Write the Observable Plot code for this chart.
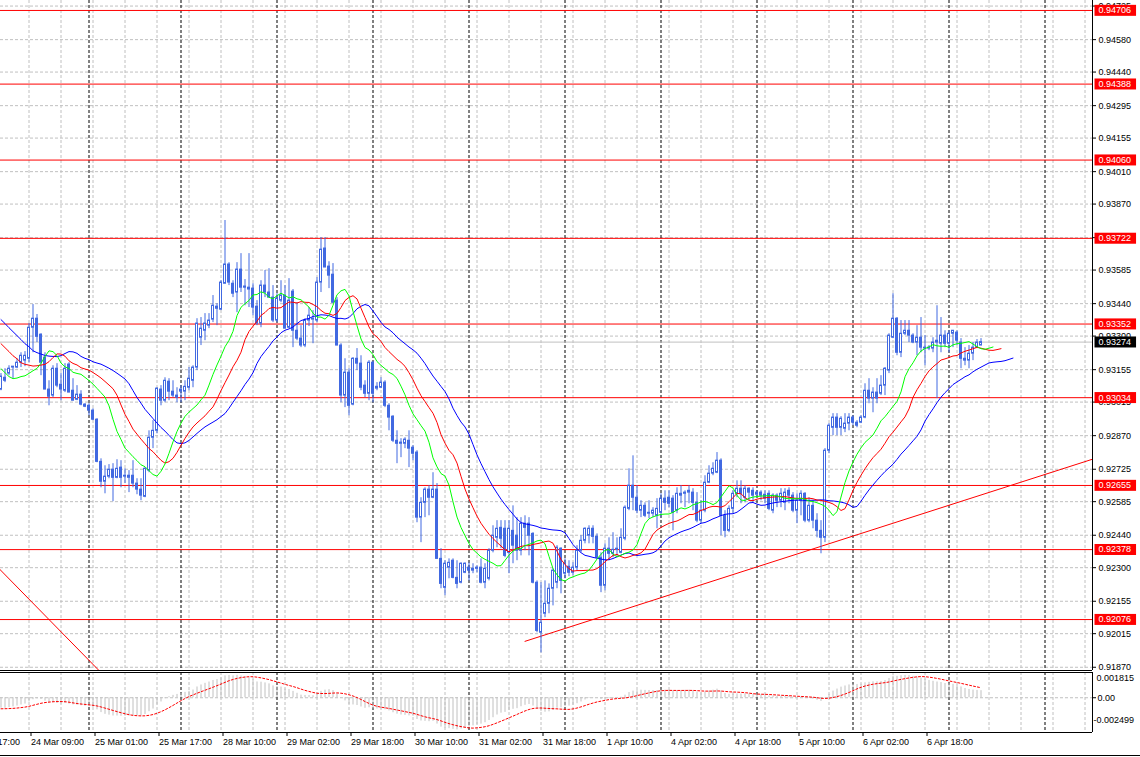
<!DOCTYPE html>
<html><head><meta charset="utf-8">
<script src="https://cdn.jsdelivr.net/npm/d3@7"></script>
<script src="https://cdn.jsdelivr.net/npm/@observablehq/plot@0.6"></script>
<style>
html,body{margin:0;padding:0;background:#fff;overflow:hidden;}
#chart{width:1140px;height:757px;position:relative;overflow:hidden;background:#fff;}
#chart svg{display:block;}
#chart .window-edge{position:absolute;left:0;top:755px;width:1140px;height:1px;background:#000;}
</style></head>
<body><div id="chart"></div>
<script>
// ---- H1 candles (bar index 0 = left edge of the chart) ----
const open = [
0.93069,0.93120,0.93138,0.93164,0.93164,0.93185,0.93194,0.93202,0.93336,0.93375,
0.93306,0.93207,0.93069,0.93043,0.93159,0.93090,0.93064,0.93177,0.93064,0.93025,
0.93047,0.93004,0.92999,0.92978,0.92939,0.92757,0.92671,0.92693,0.92723,0.92688,
0.92732,0.92693,0.92688,0.92697,0.92663,0.92637,0.92606,0.92719,0.92861,0.92891,
0.93069,0.93021,0.93103,0.93060,0.93043,0.93060,0.93060,0.93077,0.93107,0.93164,
0.93293,0.93323,0.93345,0.93371,0.93427,0.93414,0.93526,0.93609,0.93526,0.93488,
0.93587,0.93514,0.93509,0.93505,0.93427,0.93354,0.93518,0.93488,0.93466,0.93367,
0.93453,0.93475,0.93336,0.93492,0.93323,0.93289,0.93259,0.93367,0.93371,0.93367,
0.93531,0.93678,0.93600,0.93565,0.93453,0.93259,0.93043,0.93142,0.93004,0.93202,
0.93181,0.93086,0.93051,0.93185,0.93073,0.93077,0.93099,0.92999,0.92952,0.92848,
0.92835,0.92835,0.92848,0.92818,0.92797,0.92516,0.92580,0.92637,0.92602,0.92637,
0.92338,0.92213,0.92300,0.92330,0.92256,0.92235,0.92278,0.92300,0.92287,0.92295,
0.92300,0.92235,0.92252,0.92373,0.92429,0.92472,0.92468,0.92364,0.92459,0.92438,
0.92373,0.92490,0.92490,0.92446,0.92235,0.92019,0.92101,0.92144,0.92209,0.92235,
0.92382,0.92274,0.92304,0.92278,0.92300,0.92373,0.92416,0.92438,0.92468,0.92433,
0.92343,0.92222,0.92382,0.92360,0.92377,0.92364,0.92425,0.92554,0.92654,0.92602,
0.92546,0.92567,0.92533,0.92533,0.92524,0.92537,0.92598,0.92602,0.92598,0.92546,
0.92619,0.92619,0.92624,0.92624,0.92580,0.92503,0.92546,0.92667,0.92706,0.92710,
0.92762,0.92524,0.92459,0.92554,0.92619,0.92641,0.92602,0.92641,0.92632,0.92615,
0.92624,0.92615,0.92619,0.92546,0.92611,0.92589,0.92580,0.92632,0.92611,0.92546,
0.92589,0.92619,0.92503,0.92567,0.92503,0.92459,0.92429,0.92805,0.92904,0.92948,
0.92904,0.92900,0.92922,0.92948,0.92926,0.92926,0.92948,0.93064,0.93030,0.93056,
0.93051,0.93086,0.93151,0.93293,0.93375,0.93228,0.93310,0.93323,0.93302,0.93272,
0.93293,0.93250,0.93246,0.93246,0.93272,0.93267,0.93302,0.93267,0.93310,0.93315,
0.93272,0.93202,0.93194,0.93224,0.93250,0.93259];
const high = [
0.93138,0.93159,0.93172,0.93168,0.93202,0.93228,0.93233,0.93354,0.93436,0.93393,
0.93310,0.93228,0.93107,0.93172,0.93181,0.93138,0.93181,0.93185,0.93116,0.93086,
0.93064,0.93008,0.93008,0.92986,0.92943,0.92770,0.92740,0.92745,0.92749,0.92766,
0.92762,0.92727,0.92719,0.92762,0.92684,0.92684,0.92732,0.92891,0.92935,0.93077,
0.93086,0.93120,0.93116,0.93107,0.93077,0.93086,0.93107,0.93164,0.93172,0.93375,
0.93380,0.93397,0.93397,0.93475,0.93440,0.93539,0.93799,0.93617,0.93539,0.93617,
0.93656,0.93544,0.93656,0.93526,0.93453,0.93539,0.93583,0.93591,0.93518,0.93483,
0.93539,0.93518,0.93548,0.93501,0.93444,0.93345,0.93375,0.93423,0.93410,0.93552,
0.93725,0.93725,0.93621,0.93613,0.93466,0.93267,0.93202,0.93159,0.93207,0.93246,
0.93215,0.93107,0.93194,0.93190,0.93099,0.93120,0.93107,0.93008,0.92956,0.92891,
0.92857,0.92861,0.92891,0.92827,0.92805,0.92602,0.92645,0.92654,0.92710,0.92663,
0.92382,0.92330,0.92338,0.92338,0.92330,0.92321,0.92321,0.92321,0.92317,0.92308,
0.92338,0.92317,0.92382,0.92481,0.92503,0.92503,0.92503,0.92503,0.92567,0.92516,
0.92516,0.92524,0.92516,0.92451,0.92243,0.92235,0.92243,0.92230,0.92295,0.92395,
0.92386,0.92338,0.92330,0.92321,0.92395,0.92438,0.92472,0.92481,0.92481,0.92446,
0.92364,0.92403,0.92429,0.92451,0.92429,0.92468,0.92567,0.92727,0.92783,0.92654,
0.92589,0.92580,0.92589,0.92559,0.92598,0.92619,0.92632,0.92632,0.92611,0.92645,
0.92654,0.92632,0.92654,0.92641,0.92624,0.92589,0.92697,0.92740,0.92753,0.92797,
0.92770,0.92546,0.92567,0.92632,0.92675,0.92675,0.92654,0.92645,0.92645,0.92632,
0.92632,0.92632,0.92632,0.92619,0.92619,0.92641,0.92641,0.92645,0.92624,0.92619,
0.92632,0.92624,0.92602,0.92589,0.92533,0.92503,0.92814,0.92922,0.92965,0.92965,
0.92952,0.92965,0.92965,0.92956,0.92935,0.92956,0.93094,0.93116,0.93077,0.93116,
0.93129,0.93164,0.93310,0.93483,0.93380,0.93367,0.93367,0.93367,0.93310,0.93345,
0.93380,0.93302,0.93259,0.93293,0.93431,0.93380,0.93323,0.93323,0.93323,0.93323,
0.93289,0.93250,0.93259,0.93272,0.93285,0.93289];
const low = [
0.93064,0.93099,0.93129,0.93116,0.93159,0.93164,0.93168,0.93185,0.93228,0.93272,
0.93129,0.93069,0.92999,0.93034,0.93077,0.93021,0.93056,0.93056,0.93021,0.93021,
0.92999,0.92991,0.92956,0.92935,0.92753,0.92645,0.92619,0.92684,0.92585,0.92684,
0.92645,0.92663,0.92624,0.92645,0.92615,0.92589,0.92602,0.92710,0.92814,0.92878,
0.92999,0.93012,0.93021,0.93034,0.93012,0.93012,0.93021,0.93064,0.93077,0.93151,
0.93259,0.93280,0.93332,0.93358,0.93345,0.93410,0.93526,0.93518,0.93466,0.93401,
0.93488,0.93431,0.93423,0.93388,0.93345,0.93336,0.93466,0.93466,0.93358,0.93358,
0.93444,0.93332,0.93332,0.93250,0.93280,0.93250,0.93250,0.93341,0.93267,0.93358,
0.93488,0.93596,0.93505,0.93440,0.93259,0.93012,0.92991,0.92956,0.92999,0.93151,
0.93064,0.93034,0.93021,0.93012,0.93064,0.93073,0.92991,0.92891,0.92840,0.92749,
0.92775,0.92814,0.92732,0.92762,0.92494,0.92408,0.92516,0.92524,0.92598,0.92338,
0.92209,0.92179,0.92252,0.92252,0.92209,0.92230,0.92274,0.92243,0.92274,0.92278,
0.92230,0.92209,0.92243,0.92364,0.92386,0.92382,0.92343,0.92274,0.92317,0.92330,
0.92351,0.92373,0.92351,0.92230,0.92019,0.91932,0.92084,0.92101,0.92135,0.92209,
0.92187,0.92252,0.92261,0.92265,0.92287,0.92364,0.92403,0.92403,0.92403,0.92338,
0.92192,0.92200,0.92330,0.92343,0.92343,0.92360,0.92416,0.92546,0.92546,0.92533,
0.92516,0.92516,0.92511,0.92516,0.92468,0.92516,0.92546,0.92559,0.92459,0.92533,
0.92576,0.92559,0.92576,0.92546,0.92494,0.92490,0.92537,0.92663,0.92697,0.92706,
0.92438,0.92429,0.92451,0.92533,0.92602,0.92576,0.92580,0.92589,0.92580,0.92602,
0.92589,0.92576,0.92546,0.92533,0.92559,0.92559,0.92546,0.92576,0.92537,0.92490,
0.92524,0.92494,0.92494,0.92468,0.92429,0.92360,0.92408,0.92792,0.92870,0.92870,
0.92870,0.92883,0.92891,0.92913,0.92904,0.92922,0.92943,0.93008,0.92969,0.93008,
0.93043,0.93043,0.93138,0.93289,0.93215,0.93207,0.93302,0.93272,0.93267,0.93215,
0.93228,0.93172,0.93237,0.93228,0.93030,0.93228,0.93250,0.93228,0.93250,0.93259,
0.93159,0.93172,0.93159,0.93194,0.93246,0.93259];
const close = [
0.93125,0.93107,0.93159,0.93168,0.93185,0.93215,0.93215,0.93336,0.93375,0.93297,
0.93185,0.93069,0.93038,0.93159,0.93086,0.93069,0.93159,0.93056,0.93021,0.93047,
0.93004,0.92995,0.92978,0.92939,0.92757,0.92671,0.92693,0.92723,0.92688,0.92727,
0.92688,0.92697,0.92697,0.92663,0.92637,0.92611,0.92727,0.92861,0.92891,0.93073,
0.93021,0.93107,0.93060,0.93043,0.93034,0.93069,0.93081,0.93116,0.93164,0.93354,
0.93332,0.93354,0.93367,0.93431,0.93418,0.93531,0.93609,0.93531,0.93483,0.93587,
0.93509,0.93509,0.93501,0.93423,0.93354,0.93518,0.93488,0.93466,0.93367,0.93462,
0.93475,0.93332,0.93453,0.93323,0.93289,0.93259,0.93367,0.93388,0.93375,0.93531,
0.93673,0.93596,0.93561,0.93444,0.93259,0.93043,0.93142,0.92999,0.93202,0.93181,
0.93077,0.93051,0.93185,0.93051,0.93081,0.93099,0.92999,0.92948,0.92848,0.92835,
0.92840,0.92853,0.92814,0.92792,0.92516,0.92580,0.92637,0.92602,0.92637,0.92338,
0.92230,0.92317,0.92321,0.92256,0.92230,0.92317,0.92317,0.92287,0.92295,0.92300,
0.92235,0.92295,0.92373,0.92438,0.92468,0.92425,0.92351,0.92468,0.92395,0.92373,
0.92490,0.92472,0.92438,0.92235,0.92027,0.92062,0.92144,0.92209,0.92287,0.92386,
0.92243,0.92317,0.92278,0.92300,0.92373,0.92416,0.92468,0.92468,0.92433,0.92343,
0.92222,0.92382,0.92360,0.92377,0.92382,0.92429,0.92559,0.92654,0.92602,0.92546,
0.92567,0.92524,0.92537,0.92546,0.92554,0.92598,0.92580,0.92576,0.92537,0.92619,
0.92611,0.92624,0.92632,0.92580,0.92503,0.92546,0.92667,0.92706,0.92727,0.92762,
0.92524,0.92459,0.92554,0.92619,0.92641,0.92619,0.92641,0.92624,0.92611,0.92624,
0.92611,0.92598,0.92554,0.92611,0.92589,0.92619,0.92624,0.92611,0.92546,0.92589,
0.92619,0.92503,0.92567,0.92503,0.92459,0.92429,0.92805,0.92913,0.92948,0.92904,
0.92943,0.92922,0.92948,0.92926,0.92913,0.92948,0.93064,0.93030,0.93056,0.93030,
0.93086,0.93159,0.93302,0.93375,0.93228,0.93310,0.93323,0.93302,0.93272,0.93293,
0.93250,0.93246,0.93250,0.93272,0.93280,0.93302,0.93267,0.93310,0.93323,0.93280,
0.93202,0.93194,0.93224,0.93250,0.93272,0.93274];

// ---- Alligator (jaw 13/8, teeth 8/5, lips 5/3 on median price): visible start values and seeds ----
const jawLead = [0.93371,0.93354,0.93336,0.93319,0.93302,0.93285,0.93267,0.93254];
const teethLead = [0.93267,0.93250,0.93233,0.93215,0.93202];
const lipsLead = [0.93159,0.93142,0.93125];
const alligatorSeed = {jaw: 0.93248, teeth: 0.93197, lips: 0.93120};
// ---- MACD(12,26,9) starting state read from the left edge of the sub-window ----
const macdSeed = {fast: 0.93195, slow: 0.93270, signal: -0.00080};

// ---- axes, levels, objects ----
const priceTicks = [0.94725,0.94580,0.94440,0.94295,0.94155,0.94010,0.93870,0.93725,0.93585,0.93440,0.93300,0.93155,0.93015,0.92870,0.92725,0.92585,0.92440,0.92300,0.92155,0.92015,0.91870];
const levelPrices = [0.94706,0.94388,0.94060,0.93722,0.93352,0.93034,0.92655,0.92378,0.92076];
const bidPrice = 0.93274;
const trendUp = [{bar: 131, price: 0.91982}, {bar: 273, price: 0.92769}];
const trendDown = [{bar: -1, price: 0.92305}, {bar: 30, price: 0.91759}];
const daySeparatorBars = [22,45,69,93,117,141,165,189,213,237,261];
const gridBars = [7,15,23,31,39,47,55,63,71,79,87,95,103,111,119,127,135,143,151,159,167,175,183,191,199,207,215,223,231,239,247,255,263,271];
const timeLabelBars = [-9,7,23,39,55,71,87,103,119,135,151,167,183,199,215,231];
const timeLabels = ["23 Mar 17:00","24 Mar 09:00","25 Mar 01:00","25 Mar 17:00","28 Mar 10:00","29 Mar 02:00","29 Mar 18:00","30 Mar 10:00","31 Mar 02:00","31 Mar 18:00","1 Apr 10:00","4 Apr 02:00","4 Apr 18:00","5 Apr 10:00","6 Apr 02:00","6 Apr 18:00"];
const macdRange = [-0.002499, 0.001815];
const macdRangeLabels = ["-0.002499", "0.001815"];

// ---- derived tables ----
const n = close.length;
const bars = d3.range(n).map(i => ({i, o: open[i], h: high[i], l: low[i], c: close[i]}));
function smma(period, seed) {
  let s = seed; const out = [];
  for (let t = 0; t < n; t++) { s = (s * (period - 1) + (high[t] + low[t]) / 2) / period; out.push(s); }
  return out;
}
function alligatorLine(lead, period, shift, seed) {
  return lead.map((v, k) => ({x: k, y: v})).concat(smma(period, seed).map((v, t) => ({x: t + shift, y: v})));
}
const jaw = alligatorLine(jawLead, 13, 8, alligatorSeed.jaw);
const teeth = alligatorLine(teethLead, 8, 5, alligatorSeed.teeth);
const lips = alligatorLine(lipsLead, 5, 3, alligatorSeed.lips);

let ef = macdSeed.fast, es = macdSeed.slow;
const macd = close.map(c => { ef += (c - ef) * 2 / 13; es += (c - es) * 2 / 27; return ef - es; });
const hist = Array(8).fill(macdSeed.signal).concat(macd);
const macdRows = macd.map((v, i) => ({i, v}));
const signalRows = macd.map((v, i) => ({i, v: d3.mean(hist.slice(i, i + 9))}));
const timeLabelMap = new Map(timeLabelBars.map((b, k) => [b, timeLabels[k]]));

const xDomain = [-0.125, 272.875];
const yDomain = [0.91856, 0.94749];
const FONT = "'Liberation Sans', Arial, sans-serif";
const candle = "#4169e1";
const gridStyle = {stroke: "#c0c0c0", strokeDasharray: "3,2"};
const sepStyle = {stroke: "#000", strokeDasharray: "3,2"};

const mainPlot = Plot.plot({
  width: 1140, height: 671,
  marginLeft: 0, marginRight: 48, marginTop: 0, marginBottom: 1,
  x: {domain: xDomain, axis: null},
  y: {domain: yDomain, axis: null},
  color: {type: "identity"},
  style: {fontFamily: FONT, fontSize: "9px", color: "#000", background: "#fff"},
  marks: [
    Plot.ruleX(gridBars, gridStyle),
    Plot.ruleY(priceTicks, gridStyle),
    Plot.ruleX(daySeparatorBars, sepStyle),
    Plot.ruleY([bidPrice], {stroke: "#c0c0c0"}),
    Plot.ruleY(levelPrices, {stroke: "#ff0000"}),
    Plot.line(trendUp, {x: "bar", y: "price", stroke: "#ff0000", strokeWidth: 1, clip: true}),
    Plot.line(trendDown, {x: "bar", y: "price", stroke: "#ff0000", strokeWidth: 1, clip: true}),
    Plot.ruleX(bars, {x: "i", y1: "l", y2: "h", stroke: candle}),
    Plot.rect(bars, {x1: d => d.i - 0.25, x2: d => d.i + 0.25, y1: "o", y2: "c",
      fill: d => d.c >= d.o ? "#ffffff" : candle, stroke: candle, strokeWidth: 1}),
    Plot.line(jaw, {x: "x", y: "y", stroke: "#0000ff", strokeWidth: 1}),
    Plot.line(teeth, {x: "x", y: "y", stroke: "#ff0000", strokeWidth: 1}),
    Plot.line(lips, {x: "x", y: "y", stroke: "#00ff00", strokeWidth: 1}),
    Plot.ruleX([xDomain[1]], {stroke: "#000"}),
    Plot.ruleY([yDomain[0]], {stroke: "#000"}),
    Plot.axisY({anchor: "right", label: null, ticks: priceTicks, tickFormat: d => d.toFixed(5), tickSize: 3, tickPadding: 3, fontSize: 9}),
    Plot.text(levelPrices, {y: d => d, frameAnchor: "right", dx: 6, textAnchor: "start", text: d => d.toFixed(5), fill: "#ffffff", fontSize: 9, ariaDescription: "red-labels"}),
    Plot.text([bidPrice], {y: d => d, frameAnchor: "right", dx: 6, textAnchor: "start", text: d => d.toFixed(5), fill: "#ffffff", fontSize: 9, ariaDescription: "bid-label"})
  ]
});

const subPlot = Plot.plot({
  width: 1140, height: 86,
  marginLeft: 0, marginRight: 48, marginTop: 1, marginBottom: 25,
  x: {domain: xDomain, axis: null},
  y: {domain: macdRange, axis: null},
  style: {fontFamily: FONT, fontSize: "9px", color: "#000", background: "#fff"},
  marks: [
    Plot.ruleX(gridBars, gridStyle),
    Plot.ruleY([0], gridStyle),
    Plot.ruleX(daySeparatorBars, sepStyle),
    Plot.ruleX(macdRows, {x: "i", y1: 0, y2: "v", stroke: "#c0c0c0"}),
    Plot.line(signalRows, {x: "i", y: "v", stroke: "#ff0000", strokeWidth: 1, strokeDasharray: "2,2"}),
    Plot.ruleY([macdRange[1]], {stroke: "#000"}),
    Plot.ruleY([macdRange[0]], {stroke: "#000"}),
    Plot.ruleX([xDomain[1]], {stroke: "#000"}),
    Plot.axisY({anchor: "right", label: null, ticks: [0], tickFormat: () => "0.00", tickSize: 3, tickPadding: 2, fontSize: 9}),
    Plot.text([macdRange[1]], {y: d => d, frameAnchor: "right", dx: 4, dy: 2, textAnchor: "start", lineAnchor: "top", text: () => macdRangeLabels[1], fontSize: 9}),
    Plot.text([macdRange[0]], {y: d => d, frameAnchor: "right", dx: 1, dy: -10, textAnchor: "start", lineAnchor: "bottom", text: () => macdRangeLabels[0], fontSize: 9}),
    Plot.axisX({anchor: "bottom", label: null, ticks: timeLabelBars, tickFormat: d => timeLabelMap.get(d), tickSize: 4, tickPadding: 2, textAnchor: "start", dx: 2, fontSize: 9})
  ]
});

const chart = document.getElementById("chart");
chart.appendChild(mainPlot);
chart.appendChild(subPlot);
const edge = document.createElement("div");
edge.className = "window-edge";
chart.appendChild(edge);

function addLabelBoxes(svg, label, color) {
  const texts = svg.querySelectorAll(`g[aria-description="${label}"] text, g[aria-label="${label}"] text, text[aria-label="${label}"]`);
  texts.forEach(t => {
    const b = t.getBBox();
    const r = document.createElementNS("http://www.w3.org/2000/svg", "rect");
    r.setAttribute("x", b.x - 4);
    r.setAttribute("y", b.y - 0.5);
    r.setAttribute("width", b.width + 9);
    r.setAttribute("height", b.height + 1);
    r.setAttribute("fill", color);
    r.setAttribute("stroke", "none");
    const tr = t.getAttribute("transform");
    if (tr) r.setAttribute("transform", tr);
    t.parentNode.insertBefore(r, t);
  });
}
addLabelBoxes(mainPlot, "red-labels", "#ff0000");
addLabelBoxes(mainPlot, "bid-label", "#000000");
</script></body></html>
